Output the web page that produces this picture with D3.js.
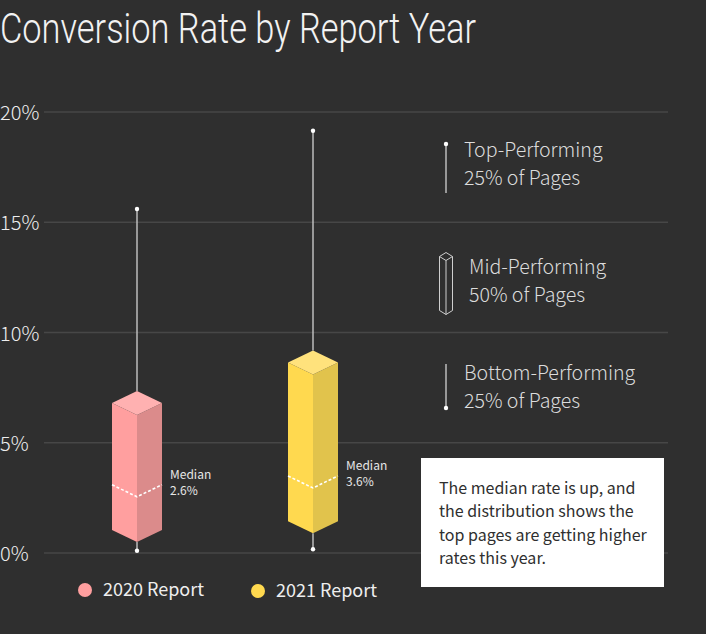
<!DOCTYPE html>
<html>
<head>
<meta charset="utf-8">
<title>Conversion Rate by Report Year</title>
<script src="https://d3js.org/d3.v7.min.js"></script>
<style>
  body { margin: 0; background: #2f2f2f; }
  svg { display: block; }
</style>
</head>
<body>
<svg width="706" height="634"></svg>
<script>
// data (percent)
var years = ["2020", "2021"];
var mins = [0.1, 0.17];
var q1s = [0.5, 0.9];
var medians = [2.55, 2.95];
var q3s = [6.26, 8.1];
var maxs = [15.6, 19.15];
var medianLabels = ["2.6%", "3.6%"];
var legendLabels = ["2020 Report", "2021 Report"];
var colors = ["#ff9f9f", "#ffd94f"];
var sideColors = ["#db8b8b", "#e1c34c"];
var topColors = ["#ffb1b1", "#ffe27c"];
var yTicks = [0, 5, 10, 15, 20];
var noteLines = ["The median rate is up, and", "the distribution shows the", "top pages are getting higher", "rates this year."];

var svg = d3.select("svg");
var sans = "'Noto Sans CJK SC', 'Noto Sans', sans-serif";

var y = d3.scaleLinear().domain([0, 20]).range([553, 112]);
var x = d3.scalePoint().domain(years).range([137, 313]);

// title
svg.append("text")
  .attr("x", 0).attr("y", 43)
  .attr("fill", "#f2f2f2")
  .attr("font-family", "Roboto, sans-serif")
  .attr("font-weight", 300)
  .attr("font-size", 42)
  .attr("textLength", 476)
  .attr("lengthAdjust", "spacingAndGlyphs")
  .text("Conversion Rate by Report Year");

// grid
svg.append("g").selectAll("line")
  .data(yTicks).enter().append("line")
  .attr("x1", 44).attr("x2", 668)
  .attr("y1", function(d){ return y(d); })
  .attr("y2", function(d){ return y(d); })
  .attr("stroke", "#474747")
  .attr("stroke-width", 1.5);

svg.append("g").selectAll("text")
  .data(yTicks).enter().append("text")
  .attr("x", 0)
  .attr("y", function(d){ return y(d) + 8; })
  .attr("fill", "#eeeeee")
  .attr("font-family", sans)
  .attr("font-weight", 300)
  .attr("font-size", 20)
  .text(function(d){ return d + "%"; });

var w = 25, dep = 12;

years.forEach(function(yr, i){
  var cx = x(yr);
  var g = svg.append("g");
  var yq3 = y(q3s[i]), yq1 = y(q1s[i]), ym = y(medians[i]);

  // whiskers
  g.append("line")
    .attr("x1", cx).attr("x2", cx)
    .attr("y1", y(maxs[i])).attr("y2", yq3 - 2 * dep)
    .attr("stroke", "#bdbdbd").attr("stroke-width", 1.5);
  g.append("line")
    .attr("x1", cx).attr("x2", cx)
    .attr("y1", yq1).attr("y2", y(mins[i]))
    .attr("stroke", "#bdbdbd").attr("stroke-width", 1.5);
  g.append("circle").attr("cx", cx).attr("cy", y(maxs[i])).attr("r", 2.2).attr("fill", "#fff");
  g.append("circle").attr("cx", cx).attr("cy", y(mins[i])).attr("r", 2.2).attr("fill", "#fff");

  // box faces
  g.append("polygon")
    .attr("points", [[cx - w, yq3 - dep], [cx, yq3], [cx, yq1], [cx - w, yq1 - dep]].join(" "))
    .attr("fill", colors[i]);
  g.append("polygon")
    .attr("points", [[cx, yq3], [cx + w, yq3 - dep], [cx + w, yq1 - dep], [cx, yq1]].join(" "))
    .attr("fill", sideColors[i]);
  g.append("polygon")
    .attr("points", [[cx, yq3 - 2 * dep], [cx - w, yq3 - dep], [cx, yq3], [cx + w, yq3 - dep]].join(" "))
    .attr("fill", topColors[i]);

  // median
  g.append("polyline")
    .attr("points", [[cx - w, ym - dep], [cx, ym], [cx + w, ym - dep]].join(" "))
    .attr("fill", "none")
    .attr("stroke", "#fff")
    .attr("stroke-width", 1.6)
    .attr("stroke-dasharray", "3,2");

  g.append("text")
    .attr("x", cx + w + 8)
    .attr("y", ym - dep - 6)
    .attr("fill", "#e6e6e6")
    .attr("font-family", sans)
    .attr("font-size", 12)
    .text("Median");
  g.append("text")
    .attr("x", cx + w + 8)
    .attr("y", ym - dep + 10.5)
    .attr("fill", "#e6e6e6")
    .attr("font-family", sans)
    .attr("font-size", 12)
    .text(medianLabels[i]);
});

// key on the right
var key = svg.append("g").attr("fill", "#dcdcdc").attr("font-family", sans).attr("font-weight", 300).attr("font-size", 19.6);

key.append("line").attr("x1", 446).attr("x2", 446).attr("y1", 144).attr("y2", 193)
  .attr("stroke", "#bdbdbd").attr("stroke-width", 1.5);
key.append("circle").attr("cx", 446).attr("cy", 144).attr("r", 2.2).attr("fill", "#fff");
key.append("text").attr("x", 464).attr("y", 157).text("Top-Performing");
key.append("text").attr("x", 464).attr("y", 185).text("25% of Pages");

var mx = 446, mw = 6.5, md = 4, mt = 256.5, mb = 310.5;
key.append("path")
  .attr("d", "M" + (mx - mw) + "," + mt + "L" + mx + "," + (mt - md) + "L" + (mx + mw) + "," + mt +
    "L" + mx + "," + (mt + md) + "Z" +
    "M" + (mx - mw) + "," + mt + "L" + (mx - mw) + "," + mb + "L" + mx + "," + (mb + md) +
    "L" + (mx + mw) + "," + mb + "L" + (mx + mw) + "," + mt +
    "M" + mx + "," + (mt + md) + "L" + mx + "," + (mb + md))
  .attr("fill", "none").attr("stroke", "#cfcfcf").attr("stroke-width", 1);
key.append("text").attr("x", 469).attr("y", 274).text("Mid-Performing");
key.append("text").attr("x", 469).attr("y", 302).text("50% of Pages");

key.append("line").attr("x1", 446).attr("x2", 446).attr("y1", 364).attr("y2", 408)
  .attr("stroke", "#bdbdbd").attr("stroke-width", 1.5);
key.append("circle").attr("cx", 446).attr("cy", 408).attr("r", 2.2).attr("fill", "#fff");
key.append("text").attr("x", 464).attr("y", 380).text("Bottom-Performing");
key.append("text").attr("x", 464).attr("y", 408).text("25% of Pages");

// note box
svg.append("rect").attr("x", 421).attr("y", 458).attr("width", 243).attr("height", 129).attr("fill", "#ffffff");
svg.append("g").selectAll("text")
  .data(noteLines).enter().append("text")
  .attr("x", 439)
  .attr("y", function(d, i){ return 494 + i * 23.3; })
  .attr("fill", "#2f2f2f")
  .attr("font-family", sans)
  .attr("font-size", 16)
  .text(function(d){ return d; });

// bottom legend
var legX = [85, 258];
legendLabels.forEach(function(t, i){
  svg.append("circle").attr("cx", legX[i]).attr("cy", 590 + i).attr("r", 7).attr("fill", colors[i]);
  svg.append("text")
    .attr("x", legX[i] + 18).attr("y", 596 + i)
    .attr("fill", "#eeeeee")
    .attr("font-family", sans)
    .attr("font-size", 18)
    .text(t);
});
</script>
</body>
</html>
